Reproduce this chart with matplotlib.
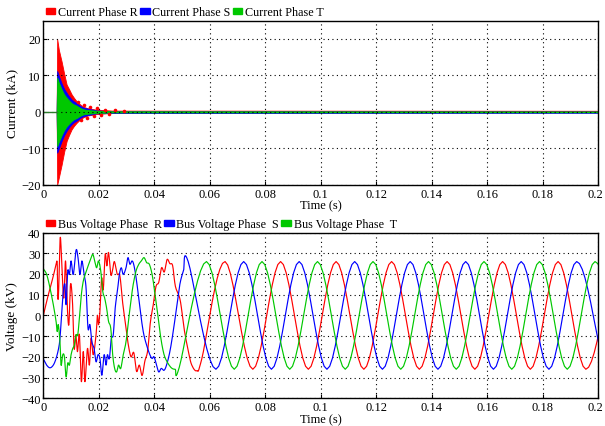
import numpy as np
import matplotlib.pyplot as plt
from matplotlib.patches import Patch
from matplotlib.transforms import ScaledTranslation

plt.rcParams['font.family'] = ['Liberation Serif', 'DejaVu Serif']
plt.rcParams['font.size'] = 9

# ---- current (kA): envelope of the fast oscillation after the fault ----
cur_t = [0.0048, 0.0050, 0.0056, 0.0066, 0.0075, 0.0084, 0.0093, 0.0102,
         0.0111, 0.0120, 0.0132, 0.0144, 0.0160, 0.0192, 0.0250, 0.2000]
red_hi = [0, 20, 17, 13.8, 10.5, 7.5, 6.2, 4.8, 3.8, 2.9, 2.1, 1.4, 1.0, 0.6, 0.35, 0.3]
red_lo = [0, -20, -18, -14.5, -11, -8, -6.3, -4.8, -3.8, -3.0, -2.1, -1.5, -1.0, -0.6, -0.25, -0.1]
blue_hi = [0, 11.2, 9.8, 7.8, 6.3, 5.2, 4.2, 3.4, 2.8, 2.4, 1.7, 1.2, 0.9, 0.4, 0.15, 0.1]
blue_lo = [0, -11.2, -10, -8.0, -6.4, -5.2, -4.2, -3.4, -2.8, -2.4, -1.7, -1.2, -0.9, -0.4, -0.3, -0.25]
green_hi = [0, 9.4, 8.0, 6.2, 4.8, 3.9, 3.1, 2.4, 2.0, 1.7, 1.1, 0.7, 0.5, 0.3, 0.15, 0.1]
green_lo = [0, -9.4, -8.2, -6.4, -5.0, -4.0, -3.2, -2.5, -2.0, -1.7, -1.1, -0.7, -0.5, -0.3, -0.15, -0.1]
pre_t = [0.0, 0.0048]
pre_v = [0.0, 0.0]
dot_t = [0.0124, 0.0136, 0.0147, 0.0159, 0.0170, 0.0182, 0.0195, 0.0208, 0.0222, 0.0238, 0.0260, 0.0290]
dot_v = [2.6, -2.2, 1.9, -1.6, 1.4, -1.2, 1.0, -0.8, 0.6, -0.5, 0.4, 0.3]

# ---- bus voltage (kV): points ----
r_t = [0, 0.0012, 0.0024, 0.0036, 0.0046, 0.0050, 0.0052, 0.0055, 0.0061, 0.0068,
       0.0074, 0.0080, 0.0086, 0.0092, 0.0098, 0.0105, 0.0111, 0.0117, 0.0123, 0.0130,
       0.0137, 0.0144, 0.0150, 0.0159, 0.0166, 0.0172, 0.0180, 0.0190, 0.0195, 0.0199,
       0.0204, 0.0210, 0.0216, 0.0223, 0.0229, 0.0235, 0.0243, 0.0249, 0.0256, 0.0266,
       0.0276, 0.0286, 0.0296, 0.0306, 0.0316, 0.0326, 0.0336, 0.0346, 0.0356, 0.0366,
       0.0376, 0.0386, 0.0396, 0.0406, 0.0416, 0.0426, 0.0436, 0.0446, 0.0456, 0.0466,
       0.0476, 0.0493, 0.0507, 0.0523, 0.0535, 0.0553, 0.0571,
       0.0655, 0.0755, 0.0855, 0.0955, 0.1055, 0.1155, 0.1255, 0.1355, 0.1455, 0.1555,
       0.1655, 0.1755, 0.1855, 0.1955, 0.2055]
r_v = [0, 6.8, 13, 19, 24.7, 25, 9.7, 11, 37.7, 19.8,
       8.4, 26.3, 5.2, -4.5, 15, 6.8, -15.9, -9.4, -17.5, -9.4,
       -32, -17.5, -32, -16, -24, -11, -19, -9.4, 0, -4.5,
       2, 18, 12.5, 29.5, 23.9, 30.4, 19.8, 21.4, 26, 20,
       19, 6, -4, -14, -20, -18, -27, -24, -29, -22,
       -17, -3, 5, 14, 16, 23, 21, 27, 25, 24,
       14, 7.5, -6.2, -17.6, -24, -26.7, -21,
       26, -26, 26, -26, 26, -26, 26, -26, 26, -26,
       26, -26, 26, -26, 26]

s_t = [0, 0.0012, 0.0024, 0.0036, 0.0046, 0.0055, 0.0060, 0.0066, 0.0072, 0.0078,
       0.0082, 0.0088, 0.0094, 0.0100, 0.0108, 0.0118, 0.0125, 0.0132, 0.0139, 0.0147,
       0.0154, 0.0161, 0.0168, 0.0175, 0.0183, 0.0190, 0.0197, 0.0204, 0.0211, 0.0219,
       0.0226, 0.0231, 0.0238, 0.0245, 0.0252, 0.0259, 0.0267, 0.0274, 0.0281, 0.0288,
       0.0298, 0.0305, 0.0312, 0.0320, 0.0327, 0.0336, 0.0348, 0.0360, 0.0372, 0.0384,
       0.0392, 0.0399, 0.0408, 0.0416, 0.0425, 0.0435, 0.0444, 0.0456, 0.0468, 0.0480,
       0.0492, 0.0505,
       0.0522, 0.0622, 0.0722, 0.0822, 0.0922, 0.1022, 0.1122, 0.1222, 0.1322, 0.1422,
       0.1522, 0.1622, 0.1722, 0.1822, 0.1922, 0.2022]
s_v = [-21, -24, -25.3, -24, -20.8, -16, -11, 0.3, 11.7, 15,
       5.2, 21.4, 19.8, 26.3, 19.8, 31.5, 27.9, 19.8, 26.3, 19.8,
       13.3, -6.2, -4.5, -12.7, -16, -22.4, -19, -20.8, -28.9, -19,
       -24, -19, -20.8, -11, -9.4, 3.6, 11.7, 19.8, 23, 19.8,
       23, 27.9, 24.7, 26.3, 23.9, 16.6, 3.6, -7.8, -14.3, -19,
       -20.8, -20, -24, -27.3, -25.6, -26.5, -24, -17.5, -7.8, 3.6,
       15, 21.4,
       26, -26, 26, -26, 26, -26, 26, -26, 26, -26,
       26, -26, 26, -26, 26, -26]

t_t = [0, 0.0012, 0.0024, 0.0036, 0.0046, 0.0050, 0.0054, 0.0060, 0.0064, 0.0070,
       0.0076, 0.0082, 0.0088, 0.0094, 0.0100, 0.0106, 0.0112, 0.0118, 0.0124, 0.0130,
       0.0137, 0.0144, 0.0151, 0.0159, 0.0168, 0.0178, 0.0185, 0.0192, 0.0199, 0.0207,
       0.0214, 0.0221, 0.0228, 0.0235, 0.0243, 0.0250, 0.0257, 0.0264, 0.0271, 0.0279,
       0.0288, 0.0298, 0.0308, 0.0317, 0.0324, 0.0334, 0.0344, 0.0353, 0.0363, 0.0372,
       0.0382, 0.0392, 0.0401, 0.0411, 0.0420, 0.0430, 0.0440, 0.0459, 0.0475, 0.0490,
       0.0588, 0.0688, 0.0788, 0.0888, 0.0988, 0.1088, 0.1188, 0.1288, 0.1388, 0.1488,
       0.1588, 0.1688, 0.1788, 0.1888, 0.1988, 0.2088]
t_v = [22.5, 19.8, 13.3, 5.2, -2.9, -7.8, -4.5, -12.7, -24, -19,
       -20, -29.7, -23, -24, -19, -16, -14.3, -9.4, -9.4, -1.3,
       10, 16.6, 19.8, 23, 26.3, 29.5, 26.3, 23, 26.3, 21.4,
       11.7, 8.4, 3.6, -2.9, -6.2, -19, -25.6, -27.3, -24, -25.6,
       -19, -12.7, -1.3, 8.4, 15, 21.4, 24.7, 26.3, 27.9, 25.5,
       24.7, 19.8, 11.7, 1.9, -7.8, -16, -20.8, -25, -26, -25,
       26, -26, 26, -26, 26, -26, 26, -26, 26, -26,
       26, -26, 26, -26, 26, -26]


def smooth(t, v, n=10):
    # catmull-rom curve through the read points
    t = np.asarray(t, float)
    v = np.asarray(v, float)
    tp = np.r_[2 * t[0] - t[1], t, 2 * t[-1] - t[-2]]
    vp = np.r_[2 * v[0] - v[1], v, 2 * v[-1] - v[-2]]
    s = np.linspace(0, 1, n, endpoint=False)
    h00 = 2 * s**3 - 3 * s**2 + 1
    h10 = s**3 - 2 * s**2 + s
    h01 = -2 * s**3 + 3 * s**2
    h11 = s**3 - s**2
    xs, ys = [], []
    for i in range(1, len(tp) - 2):
        for p, out in ((tp, xs), (vp, ys)):
            m1 = (p[i + 1] - p[i - 1]) / 2
            m2 = (p[i + 2] - p[i]) / 2
            out.append(h00 * p[i] + h10 * m1 + h01 * p[i + 1] + h11 * m2)
    return np.concatenate(xs + [[t[-1]]]), np.concatenate(ys + [[v[-1]]])


RED, BLUE, GREEN = '#ff0000', '#0000ff', '#00c800'

fig = plt.figure(figsize=(6.05, 4.27), dpi=100)
ax1 = fig.add_axes([0.0716, 0.565, 0.9174, 0.384])
ax2 = fig.add_axes([0.0716, 0.065, 0.9174, 0.388])

# top: currents
ax1.plot(pre_t, pre_v, color='#2e7d2e', lw=1)
ax1.fill_between(cur_t, red_lo, red_hi, color=RED, lw=0.6, edgecolor=RED)
ax1.fill_between(cur_t, blue_lo, blue_hi, color=BLUE, lw=0.6, edgecolor=BLUE)
ax1.fill_between(cur_t, green_lo, green_hi, color=GREEN, lw=0.6, edgecolor=GREEN)
ax1.plot(dot_t, dot_v, 'o', color=RED, ms=2.6, mew=0)
ax1.set_ylim(-20, 25)
ax1.set_yticks([-20, -10, 0, 10, 20])
ax1.set_ylabel('Current (kA)', labelpad=2, fontsize=9.5)

# bottom: voltages
for tt, vv, c in ((r_t, r_v, RED), (s_t, s_v, BLUE), (t_t, t_v, GREEN)):
    x, y = smooth(tt, vv)
    ax2.plot(x, y, color=c, lw=0.85)
ax2.set_ylim(-40, 40)
ax2.set_yticks(np.arange(-40, 41, 10))
ax2.set_ylabel('Voltage (kV)', labelpad=2, fontsize=9.5)

xt = np.arange(0, 0.201, 0.02)
xl = ['0', '0.02', '0.04', '0.06', '0.08', '0.1', '0.12', '0.14', '0.16', '0.18', '0.2']
shift = ScaledTranslation(-3 / 100, 0, fig.dpi_scale_trans)
for ax in (ax1, ax2):
    ax.set_xlim(0, 0.2)
    ax.set_xticks(xt)
    ax.set_xticklabels(xl)
    ax.set_xlabel('Time (s)', labelpad=0)
    ax.grid(True, color='black', ls=(0, (1, 3)), lw=0.8)
    ax.tick_params(direction='in', length=3, pad=2)
    for sp in ax.spines.values():
        sp.set_linewidth(1.0)
    last = ax.get_xticklabels()[-1]
    last.set_transform(last.get_transform() + shift)

leg_kw = dict(loc='lower left', bbox_to_anchor=(0, 1.0), ncol=3, frameon=False,
              handlelength=0.8, handleheight=0.45, handletextpad=0.2,
              columnspacing=0.2, borderaxespad=0.1, borderpad=0.1, fontsize=8.7)
ax1.legend([Patch(color=RED), Patch(color=BLUE), Patch(color=GREEN)],
           ['Current Phase R', 'Current Phase S', 'Current Phase T'], **leg_kw)
ax2.legend([Patch(color=RED), Patch(color=BLUE), Patch(color=GREEN)],
           ['Bus Voltage Phase  R', 'Bus Voltage Phase  S', 'Bus Voltage Phase  T'], **leg_kw)

fig.savefig('out.png', dpi=100)
